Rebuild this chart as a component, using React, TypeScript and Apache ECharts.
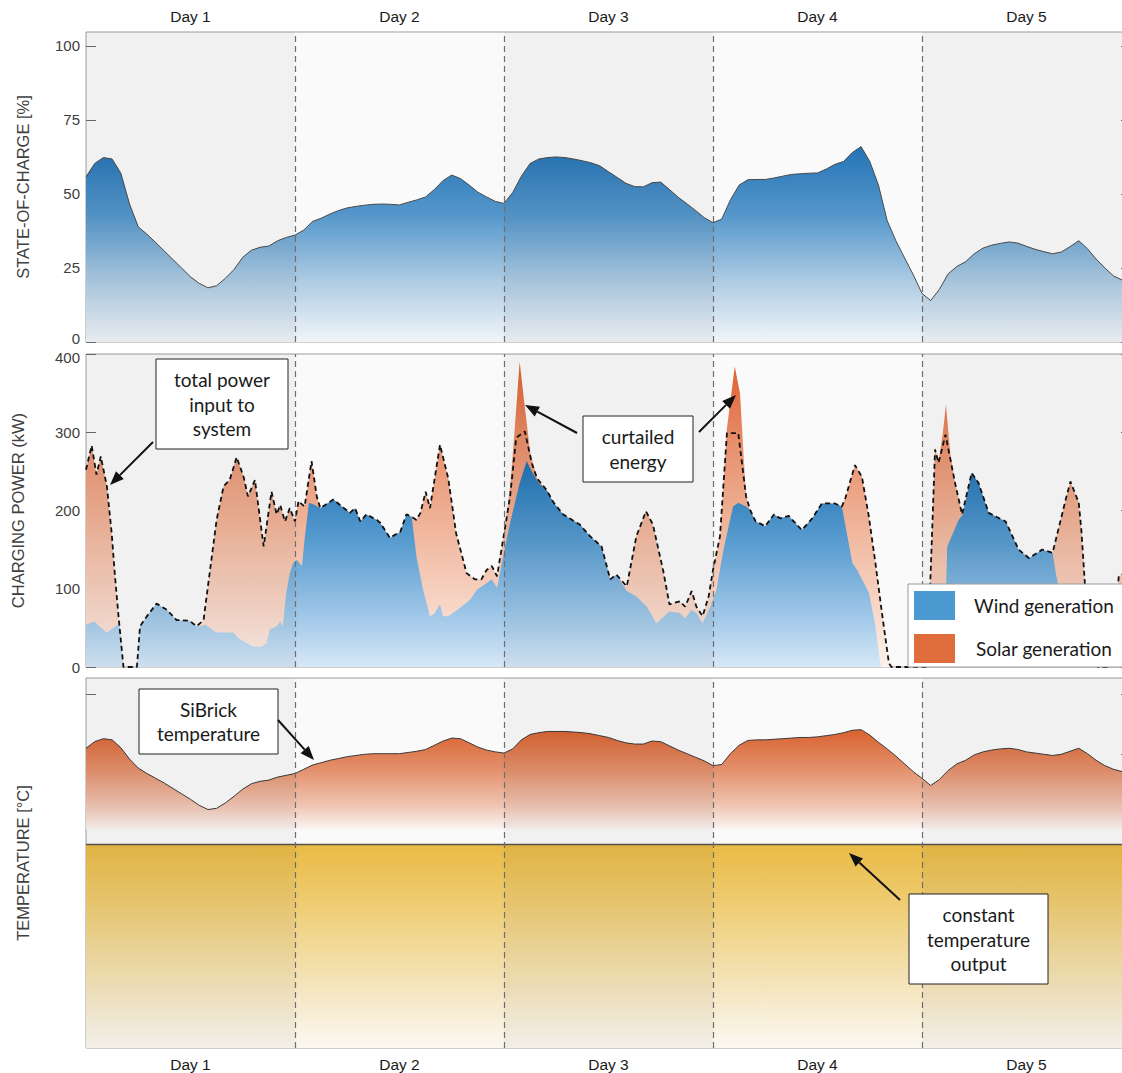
import React, { useEffect, useRef } from "react";
import * as echarts from "echarts";

// ---------- data ----------
const HOURS = Array.from({ length: 121 }, (_, i) => i);
const DAY_LABELS = ["Day 1", "Day 2", "Day 3", "Day 4", "Day 5"];
const DAY_CENTERS = [12, 36, 60, 84, 108];
const DAY_BOUNDARIES = [24, 48, 72, 96];
const SHADED_DAYS: [number, number][] = [
  [0, 24],
  [48, 72],
  [96, 120],
];
const SOC_TICKS = [0, 25, 50, 75, 100];
const TEMP_TICKS = [800, 900, 1000, 1100, 1200, 1300];

// state of charge [%], hourly
const stateOfCharge = [
  55.8, 60.3, 62.3, 61.8, 57, 46.6, 38.9, 36.4, 33.6, 30.7, 27.8, 24.9, 22.0, 19.8, 18.3, 19, 21.5, 24.5, 28.6, 31, 32, 32.4, 34.2, 35.3,
  36.1, 37.8, 40.7, 41.8, 43.2, 44.4, 45.3, 45.8, 46.2, 46.5, 46.6, 46.5, 46.3, 47.2, 48, 49, 51.5, 54.5, 56.4, 55.2, 53, 50.6, 49, 47.5,
  46.8, 50.5, 56, 60.3, 61.8, 62.3, 62.5, 62.3, 61.8, 61.2, 60.5, 59.5, 57.5, 55.6, 53.6, 52.5, 52.4, 53.8, 54, 51.5, 48.9, 46.7, 44.4, 42,
  40.3, 41.5, 48, 53, 54.8, 54.9, 54.9, 55.4, 56, 56.6, 56.8, 57, 57.1, 58.4, 60, 61, 64, 66, 61, 53, 41, 34.2, 28.4, 22.7,
  16.4, 14, 17.8, 23, 25.5, 27.1, 29.8, 31.7, 32.7, 33.3, 33.8, 33.4, 32.3, 31.3, 30.5, 29.8, 30.4, 32.2, 34.2, 31.5, 28, 25, 22.3, 20.9, 20,
];

// SiBrick temperature [°C], hourly
const sibrickTemperature = [
  1210, 1221, 1226, 1224, 1211, 1192, 1177, 1168, 1160, 1152, 1143, 1134, 1125, 1115, 1108, 1110, 1119, 1130, 1142, 1151, 1155, 1157, 1162, 1165,
  1168, 1175, 1182, 1186, 1190, 1193, 1196, 1198, 1200, 1201, 1201, 1201, 1201, 1203, 1205, 1208, 1215, 1222, 1227, 1226, 1219, 1212, 1207, 1204,
  1202, 1209, 1224, 1233, 1236, 1238, 1238, 1238, 1237, 1236, 1234, 1231, 1228, 1223, 1219, 1217, 1217, 1222, 1221, 1214, 1207, 1201, 1195, 1189,
  1181, 1183, 1201, 1215, 1223, 1224, 1224, 1225, 1226, 1227, 1228, 1228, 1229, 1231, 1233, 1236, 1240, 1241, 1232, 1220, 1209, 1197, 1184, 1171,
  1160, 1148, 1158, 1173, 1184, 1190, 1199, 1204, 1207, 1209, 1210, 1208, 1204, 1202, 1200, 1198, 1200, 1205, 1210, 1201, 1190, 1181, 1175, 1171, 1168,
];
const SIBRICK_FILL_BASE = 1075;

// constant output temperature [°C]
const outputTemperature: [number, number][] = [
  [0, 1050],
  [120, 1050],
];

// charging power [kW] as [hour, kW]
const windPower: [number, number][] = [
  [0, 54], [1, 58], [1.5, 52], [2.4, 44], [3.4, 52], [3.85, 55], [4.3, 0], [5.85, 0], [6.2, 52], [7, 65], [8.1, 81], [9.3, 73],
  [10.4, 60], [11.9, 59], [12.7, 52], [13.1, 52], [13.7, 54], [15, 44], [16.9, 44], [17.7, 35], [19.2, 26], [20.2, 26], [20.75, 31],
  [21.1, 48], [21.9, 52], [22.3, 58], [22.6, 52], [23, 95], [23.4, 120], [23.8, 133], [24.2, 137], [24.8, 129], [25.1, 163], [25.6, 210],
  [26.3, 207], [26.9, 203], [28.4, 214], [30.3, 197], [30.9, 203], [31.5, 186], [32.2, 195], [33.4, 188], [33.8, 184], [34.9, 165],
  [36.1, 173], [36.8, 195], [37.4, 192], [37.95, 141], [38.7, 99], [39.5, 65], [40, 68], [40.65, 80], [41, 65], [41.6, 65], [42.9, 75],
  [44.1, 86], [44.9, 99], [46, 107], [46.6, 112], [47.2, 101], [47.9, 141], [48.7, 184], [49.8, 235], [50.6, 263], [51.3, 248], [52, 235],
  [52.9, 226], [53.7, 210], [54.8, 195], [56.7, 182], [57.9, 167], [59.2, 154], [60.2, 112], [60.9, 118], [62.1, 97], [63.2, 90],
  [64.4, 77], [65.5, 56], [66.1, 62], [67, 71], [68.2, 69], [68.8, 62], [69.5, 73], [70.1, 69], [70.8, 56], [71.7, 77], [72.4, 99],
  [73.2, 150], [74.3, 205], [74.9, 210], [75.8, 205], [76.25, 201], [76.9, 186], [78, 180], [79, 195], [79.7, 190], [80.7, 193],
  [82.2, 175], [83.4, 190], [84.5, 209], [86, 209], [86.8, 205], [88, 133], [88.55, 124], [89.9, 95], [90.65, 52], [91.2, 5], [91.3, 0],
  [98.5, 0], [98.9, 154], [100.2, 188], [100.7, 195], [101.7, 248], [102.5, 235], [103.65, 197], [105.6, 186], [107.1, 150], [108.3, 139],
  [109.8, 150], [111, 146], [111.3, 124], [111.6, 107], [112.5, 70], [113.5, 30], [114, 0], [120, 0],
];

// wind + solar generation [kW]
const windPlusSolar: [number, number][] = [
  [0, 252], [0.65, 283], [1.2, 246], [1.7, 269], [2.4, 231], [2.95, 171], [3.3, 120], [3.7, 69], [4.3, 0], [5.85, 0], [6.2, 52], [7, 65],
  [8.1, 81], [9.3, 73], [10.4, 60], [11.9, 59], [12.7, 52], [13.5, 60], [14.2, 120], [15, 188], [15.8, 231], [16.5, 239], [17.3, 268],
  [18.1, 243], [18.6, 218], [19.4, 239], [20.4, 154], [21.3, 224], [21.9, 195], [22.3, 207], [22.85, 186], [23.4, 203], [24, 186],
  [24.4, 212], [25.1, 205], [25.9, 263], [26.5, 218], [26.9, 203], [28.4, 214], [30.3, 197], [30.9, 203], [31.5, 186], [32.2, 195],
  [33.4, 188], [33.8, 184], [34.9, 165], [36.1, 173], [36.8, 195], [37.4, 192], [37.95, 188], [38.4, 197], [39, 224], [39.5, 203],
  [40.65, 284], [41.6, 241], [42.5, 171], [43.7, 120], [44.65, 112], [45.4, 112], [46, 124], [46.6, 129], [47.2, 116], [47.9, 163],
  [48.7, 230], [49.2, 300], [49.8, 390], [50.3, 341], [51, 275], [51.8, 241], [52.9, 226], [53.7, 210], [54.8, 195], [56.7, 182],
  [57.9, 167], [59.2, 154], [60.2, 112], [60.9, 118], [62.1, 103], [63.2, 167], [64.3, 199], [65.1, 182], [66.3, 122], [67, 80],
  [68.2, 84], [68.8, 77], [69.55, 97], [70.1, 77], [70.8, 65], [71.5, 90], [72, 124], [72.8, 167], [73.6, 305], [74.5, 384], [75.1, 350],
  [75.8, 218], [76.25, 201], [76.9, 186], [78, 180], [79, 195], [79.7, 190], [80.7, 193], [82.2, 175], [83.4, 190], [84.5, 209], [86, 209],
  [86.8, 205], [87.2, 216], [88.3, 258], [89.1, 243], [89.9, 192], [90.65, 133], [91.4, 69], [92.2, 5], [92.5, 0], [96.6, 0], [96.95, 107],
  [97.5, 280], [97.9, 262], [98.4, 300], [98.75, 335], [99.25, 273], [99.8, 235], [100.6, 195], [101.7, 248], [102.5, 235], [103.65, 197],
  [105.6, 186], [107.1, 150], [108.3, 139], [109.8, 150], [111, 146], [112.5, 214], [113.05, 237], [114, 210], [114.3, 175], [114.7, 107],
  [115.5, 50], [116.2, 0], [117.6, 0], [118.6, 116], [119.3, 120], [120, 112],
];

// total power input to system [kW] (dashed)
const inputPower: [number, number][] = [
  [0, 252], [0.65, 283], [1.2, 246], [1.7, 269], [2.4, 231], [2.95, 171], [3.3, 120], [3.7, 69], [4.3, 0], [5.85, 0], [6.2, 52], [7, 65],
  [8.1, 81], [9.3, 73], [10.4, 60], [11.9, 59], [12.7, 52], [13.5, 60], [14.2, 120], [15, 188], [15.8, 231], [16.5, 239], [17.3, 268],
  [18.1, 243], [18.6, 218], [19.4, 239], [20.4, 154], [21.3, 224], [21.9, 195], [22.3, 207], [22.85, 186], [23.4, 203], [24, 186],
  [24.4, 212], [25.1, 205], [25.9, 263], [26.5, 218], [26.9, 203], [28.4, 214], [30.3, 197], [30.9, 203], [31.5, 186], [32.2, 195],
  [33.4, 188], [33.8, 184], [34.9, 165], [36.1, 173], [36.8, 195], [37.4, 192], [37.95, 188], [38.4, 197], [39, 224], [39.5, 203],
  [40.65, 284], [41.6, 241], [42.5, 171], [43.7, 120], [44.65, 112], [45.4, 112], [46, 124], [46.6, 129], [47.2, 116], [47.9, 163],
  [48.7, 218], [49.4, 293], [50.4, 301], [51.2, 260], [51.8, 241], [52.9, 226], [53.7, 210], [54.8, 195], [56.7, 182],
  [57.9, 167], [59.2, 154], [60.2, 112], [60.9, 118], [62.1, 103], [63.2, 167], [64.3, 199], [65.1, 182], [66.3, 122], [67, 80],
  [68.2, 84], [68.8, 77], [69.55, 97], [70.1, 77], [70.8, 65], [71.5, 90], [72, 124], [72.8, 167], [73.6, 299], [74.9, 299],
  [75.8, 218], [76.25, 201], [76.9, 186], [78, 180], [79, 195], [79.7, 190], [80.7, 193], [82.2, 175], [83.4, 190], [84.5, 209], [86, 209],
  [86.8, 205], [87.2, 216], [88.3, 258], [89.1, 243], [89.9, 192], [90.65, 133], [91.4, 69], [92.2, 5], [92.5, 0], [96.6, 0], [96.95, 107],
  [97.5, 278], [97.9, 261], [98.7, 297], [99.8, 235], [100.6, 195], [101.7, 248], [102.5, 235], [103.65, 197],
  [105.6, 186], [107.1, 150], [108.3, 139], [109.8, 150], [111, 146], [112.5, 214], [113.05, 237], [114, 210], [114.3, 175], [114.7, 107],
  [115.5, 50], [116.2, 0], [117.6, 0], [118.6, 116], [119.3, 120], [120, 112],
];

// ---------- styling helpers ----------
const FONT = "Liberation Sans";
const NOTE_FONT = "19px Lato";

const vgrad = (stops: [number, string][]) => ({
  type: "linear",
  x: 0,
  y: 0,
  x2: 0,
  y2: 1,
  colorStops: stops.map(([offset, color]) => ({ offset, color })),
});

const socGrad = vgrad([
  [0, "#2473b5"],
  [0.35, "#5597cb"],
  [0.7, "#b0cde4"],
  [1, "#f1f5f9"],
]);
const windGrad = vgrad([
  [0, "#1f72b3"],
  [0.4, "#5a9dd0"],
  [0.75, "#9fc7e8"],
  [1, "#d6e8f7"],
]);
const solarGrad = vgrad([
  [0, "#dd5f2e"],
  [0.28, "#e8916e"],
  [0.55, "#f0b69c"],
  [0.85, "#f9dccf"],
  [1, "#fdf2ed"],
]);
const sibrickGrad = vgrad([
  [0, "#d9622f"],
  [0.4, "#e3906c"],
  [0.75, "#efc3b0"],
  [1, "#fbf4f1"],
]);
const goldGrad = vgrad([
  [0, "#e9ba45"],
  [0.3, "#efcd74"],
  [0.65, "#f4e2b4"],
  [1, "#fbf8f2"],
]);

const dayBands = {
  silent: true,
  z: 3,
  itemStyle: { color: "rgba(0,0,0,0.037)" },
  data: SHADED_DAYS.map(([a, b]) => [{ xAxis: a }, { xAxis: b }]),
};
const dayLines = {
  silent: true,
  symbol: ["none", "none"],
  label: { show: false },
  lineStyle: { color: "#6e6e6e", type: [6, 4], width: 1.2 },
  data: DAY_BOUNDARIES.map((x) => ({ xAxis: x })),
};

const CHART_WIDTH = 1140;
const GRIDS = [
  { left: 86, top: 32, width: 1045, height: 310 },
  { left: 86, top: 354, width: 1045, height: 313 },
  { left: 86, top: 678, width: 1045, height: 370 },
];

const tickStyle = { color: "#6a6a6a", width: 1 };
const labelBase = { color: "#404040", fontSize: 15, fontFamily: FONT };
const labelStyle = { ...labelBase, margin: 6 };
const nameStyle = { color: "#404040", fontSize: 16.5, fontFamily: FONT };

function xAxisFor(gridIndex: number, position: "top" | "bottom", showLabels: boolean) {
  return {
    gridIndex,
    type: "value",
    min: 0,
    max: 120,
    position,
    axisLine: { show: false },
    axisTick: { show: false },
    splitLine: { show: false },
    axisLabel: {
      show: showLabels,
      customValues: DAY_CENTERS,
      formatter: (v: number) => DAY_LABELS[DAY_CENTERS.indexOf(v)] ?? "",
      color: "#1a1a1a",
      fontSize: 15.5,
      fontFamily: FONT,
      margin: 8,
    },
  };
}

function arrowEls(x1: number, y1: number, x2: number, y2: number) {
  const a = Math.atan2(y2 - y1, x2 - x1);
  const L = 14;
  const W = 5.5;
  const bx = x2 - L * Math.cos(a);
  const by = y2 - L * Math.sin(a);
  const px = -Math.sin(a);
  const py = Math.cos(a);
  return [
    { type: "line", z: 100, shape: { x1, y1, x2: bx, y2: by }, style: { stroke: "#111", lineWidth: 2 } },
    {
      type: "polygon",
      z: 100,
      shape: { points: [[x2, y2], [bx + W * px, by + W * py], [bx - W * px, by - W * py]] },
      style: { fill: "#111" },
    },
  ];
}

function noteEls(x: number, y: number, w: number, h: number, text: string) {
  return [
    { type: "rect", z: 100, shape: { x, y, width: w, height: h }, style: { fill: "#ffffff", stroke: "#222", lineWidth: 1 } },
    {
      type: "text",
      z: 101,
      x: x + w / 2,
      y: y + h / 2,
      style: {
        text,
        font: NOTE_FONT,
        fill: "#1a1a1a",
        align: "center",
        verticalAlign: "middle",
        textAlign: "center",
        textVerticalAlign: "middle",
        lineHeight: 24.3,
      },
    },
  ];
}

function legendEls() {
  const txt = (t: string, y: number) => ({
    type: "text",
    z: 101,
    x: 1044,
    y,
    style: {
      text: t,
      font: NOTE_FONT,
      fill: "#1a1a1a",
      align: "center",
      verticalAlign: "middle",
      textAlign: "center",
      textVerticalAlign: "middle",
    },
  });
  return [
    { type: "rect", z: 100, shape: { x: 908, y: 584, width: 240, height: 83 }, style: { fill: "#ffffff", stroke: "#9a9a9a", lineWidth: 1 } },
    { type: "rect", z: 101, shape: { x: 914, y: 591, width: 41, height: 29 }, style: { fill: "#4c99d2" } },
    { type: "rect", z: 101, shape: { x: 914, y: 634, width: 41, height: 29 }, style: { fill: "#e06c3c" } },
    txt("Wind generation", 605.5),
    txt("Solar generation", 648),
  ];
}

function buildOption() {
  const yAxis = [
    {
      gridIndex: 0,
      type: "value",
      min: 0,
      max: 104.7,
      position: "left",
      name: "STATE-OF-CHARGE [%]",
      nameLocation: "middle",
      nameGap: 55,
      nameTextStyle: nameStyle,
      axisLine: { show: false },
      axisTick: { show: true, inside: true, length: 10, customValues: SOC_TICKS, lineStyle: tickStyle },
      axisLabel: {
        ...labelStyle,
        customValues: SOC_TICKS,
        formatter: (v: number) => (v === 0 ? "{low|0}" : `${v}`),
        rich: { low: { ...labelBase, padding: [0, 0, 8, 0] } },
      },
      splitLine: { show: false },
    },
    {
      gridIndex: 0,
      type: "value",
      min: 0,
      max: 104.7,
      position: "right",
      axisLine: { show: false },
      axisTick: { show: true, inside: true, length: 10, customValues: SOC_TICKS, lineStyle: tickStyle },
      axisLabel: { show: false },
      splitLine: { show: false },
    },
    {
      gridIndex: 1,
      type: "value",
      min: 0,
      max: 400,
      interval: 100,
      position: "left",
      name: "CHARGING POWER (kW)",
      nameLocation: "middle",
      nameGap: 59.5,
      nameTextStyle: nameStyle,
      axisLine: { show: false },
      axisTick: { show: true, inside: true, length: 10, lineStyle: tickStyle },
      axisLabel: {
        ...labelStyle,
        formatter: (v: number) => (v === 400 ? "{top|400}" : `${v}`),
        rich: { top: { ...labelBase, padding: [6, 0, 0, 0] } },
      },
      splitLine: { show: false },
    },
    {
      gridIndex: 1,
      type: "value",
      min: 0,
      max: 400,
      interval: 100,
      position: "right",
      axisLine: { show: false },
      axisTick: { show: true, inside: true, length: 10, lineStyle: tickStyle },
      axisLabel: { show: false },
      splitLine: { show: false },
    },
    {
      gridIndex: 2,
      type: "value",
      min: 711,
      max: 1327,
      position: "left",
      name: "TEMPERATURE [°C]",
      nameLocation: "middle",
      nameGap: 55,
      nameTextStyle: nameStyle,
      axisLine: { show: false },
      axisTick: { show: true, inside: true, length: 10, customValues: TEMP_TICKS, lineStyle: tickStyle },
      axisLabel: { show: false },
      splitLine: { show: false },
    },
    {
      gridIndex: 2,
      type: "value",
      min: 711,
      max: 1327,
      position: "right",
      axisLine: { show: false },
      axisTick: { show: true, inside: true, length: 10, customValues: TEMP_TICKS, lineStyle: tickStyle },
      axisLabel: { show: false },
      splitLine: { show: false },
    },
  ];

  const series = [
    {
      name: "State of charge",
      type: "line",
      xAxisIndex: 0,
      yAxisIndex: 0,
      data: stateOfCharge.map((v, i) => [HOURS[i], v]),
      symbol: "none",
      lineStyle: { color: "#4a4a4a", width: 1 },
      areaStyle: { color: socGrad, opacity: 1 },
      z: 2,
      markArea: dayBands,
      markLine: dayLines,
    },
    {
      name: "Solar generation",
      type: "line",
      xAxisIndex: 1,
      yAxisIndex: 2,
      data: windPlusSolar,
      symbol: "none",
      lineStyle: { width: 0, opacity: 0 },
      areaStyle: { color: solarGrad, opacity: 1 },
      z: 2,
      markArea: dayBands,
      markLine: dayLines,
    },
    {
      name: "Wind generation",
      type: "line",
      xAxisIndex: 1,
      yAxisIndex: 2,
      data: windPower,
      symbol: "none",
      lineStyle: { width: 0, opacity: 0 },
      areaStyle: { color: windGrad, opacity: 1 },
      z: 2,
    },
    {
      name: "Total power input to system",
      type: "line",
      xAxisIndex: 1,
      yAxisIndex: 2,
      data: inputPower,
      symbol: "none",
      lineStyle: { color: "#111111", width: 1.8, type: [5, 3.5] },
      z: 4,
    },
    {
      name: "SiBrick temperature",
      type: "line",
      xAxisIndex: 2,
      yAxisIndex: 4,
      data: sibrickTemperature.map((v, i) => [HOURS[i], v]),
      symbol: "none",
      lineStyle: { color: "#3a3a3a", width: 1 },
      areaStyle: { color: sibrickGrad, opacity: 1, origin: SIBRICK_FILL_BASE },
      z: 2,
      markArea: dayBands,
      markLine: dayLines,
    },
    {
      name: "Constant temperature output",
      type: "line",
      xAxisIndex: 2,
      yAxisIndex: 4,
      data: outputTemperature,
      symbol: "none",
      lineStyle: { color: "#5a554a", width: 1.5 },
      areaStyle: { color: goldGrad, opacity: 1, origin: "start" },
      z: 2,
    },
  ];

  const graphicEls = [
    ...noteEls(156, 359, 132, 90, "total power\ninput to\nsystem"),
    ...arrowEls(153, 442, 110, 485),
    ...noteEls(583, 416, 110, 66, "curtailed\nenergy"),
    ...arrowEls(577, 433, 525, 405),
    ...arrowEls(699, 432, 736, 395),
    ...noteEls(139, 689, 139, 65, "SiBrick\ntemperature"),
    ...arrowEls(278, 720, 314, 760),
    ...noteEls(909, 894, 139, 90, "constant\ntemperature\noutput"),
    ...arrowEls(900, 900, 849, 853),
    ...legendEls(),
  ];

  return {
    animation: false,
    backgroundColor: "#ffffff",
    textStyle: { fontFamily: FONT },
    grid: GRIDS.map((g) => ({
      ...g,
      show: true,
      backgroundColor: "#fafafa",
      borderColor: "#9d9d9d",
      borderWidth: 1,
      containLabel: false,
    })),
    xAxis: [xAxisFor(0, "top", true), xAxisFor(1, "bottom", false), xAxisFor(2, "bottom", true)],
    yAxis,
    series,
    graphic: { elements: graphicEls },
  };
}

export default function App() {
  const ref = useRef<HTMLDivElement>(null);
  useEffect(() => {
    if (!ref.current) return;
    const chart = echarts.init(ref.current, undefined, { renderer: "svg" });
    chart.setOption(buildOption() as any);
    return () => chart.dispose();
  }, []);
  return (
    <div style={{ position: "absolute", left: 0, top: 0, width: 1122, height: 1073, overflow: "hidden" }}>
      <div ref={ref} style={{ width: CHART_WIDTH, height: 1073 }} />
    </div>
  );
}
